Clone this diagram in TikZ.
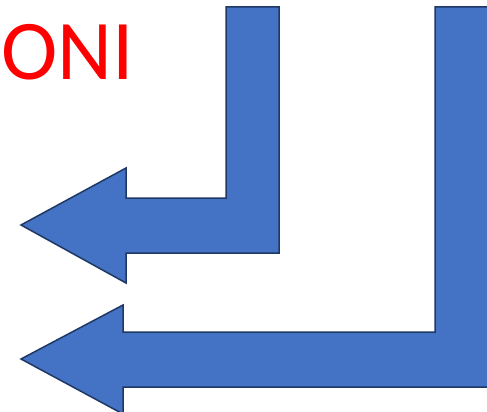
\documentclass[tikz,border=0pt]{standalone}
\usepackage{fontspec}
\setmainfont{Carlito}
\definecolor{arrfill}{HTML}{4472C4}
\definecolor{arredge}{HTML}{1F3864}
\begin{document}
\begin{tikzpicture}[x=1pt,y=-1pt,
  bentarrow/.style={fill=arrfill,draw=arredge,line width=1.5pt,line join=miter}]
\useasboundingbox (0,0) rectangle (487,412);
\clip (0,0) rectangle (487,412);
% upper bent arrow
\draw[bentarrow] (226,7) -- (279,7) -- (279,253) -- (126,253) -- (126,283)
  -- (21,225) -- (126,168) -- (126,198) -- (226,198) -- cycle;
% lower bent arrow
\draw[bentarrow] (435,7) -- (492,7) -- (492,387) -- (123,387) -- (123,414)
  -- (21,359) -- (123,305) -- (123,332) -- (435,332) -- cycle;
\node[anchor=base west,inner sep=0pt,text=red,font=\fontsize{85}{90}\selectfont] (oni) at (1,80) {ONI};
\end{tikzpicture}
\end{document}
